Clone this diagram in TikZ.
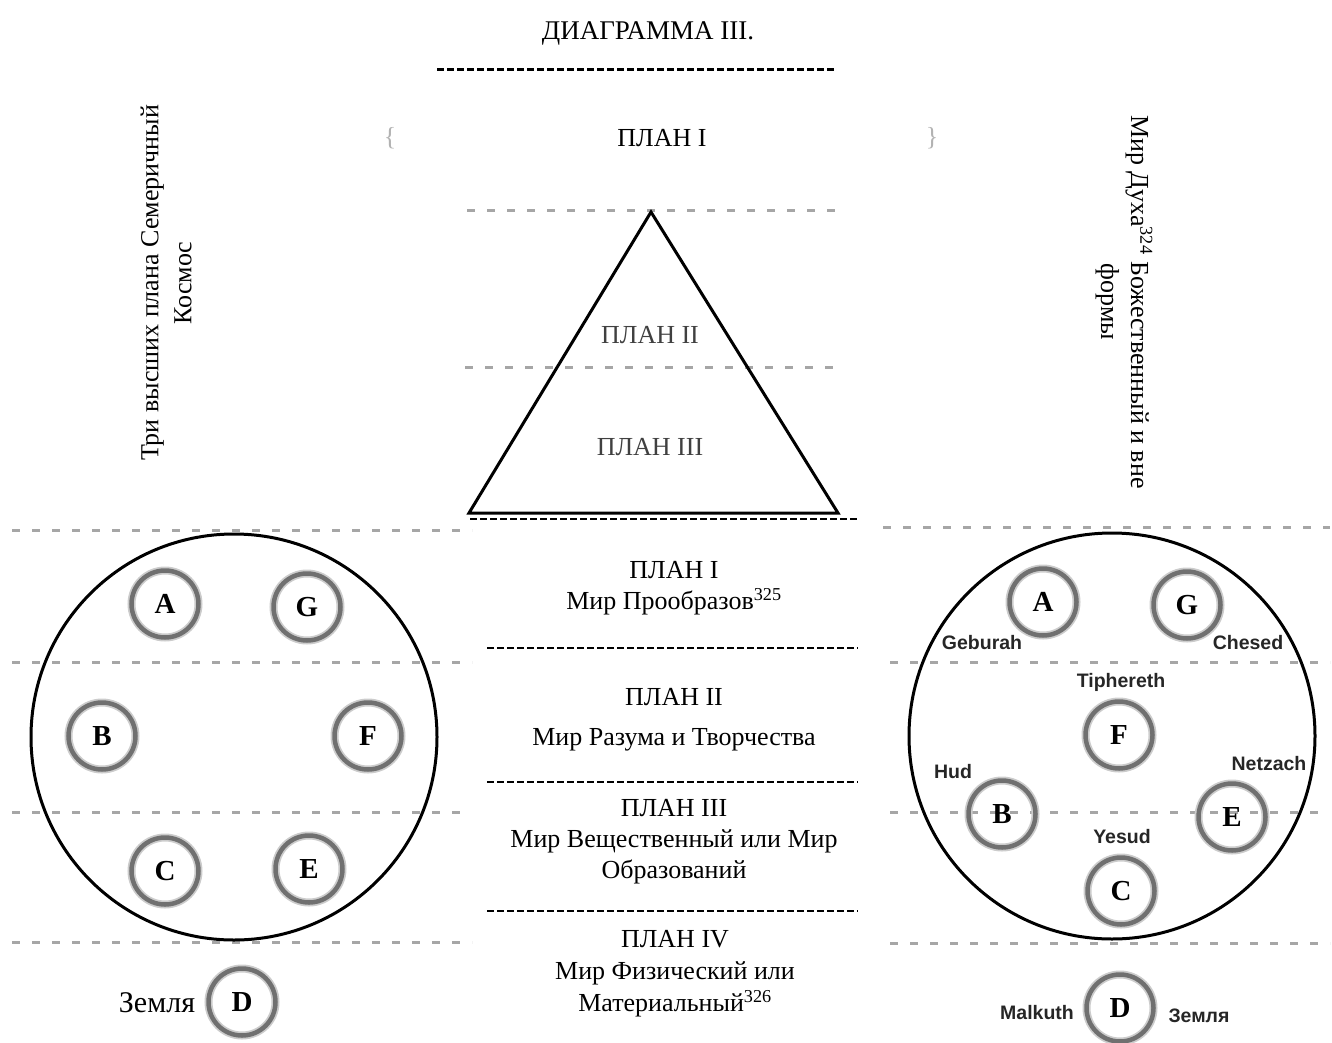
\documentclass[tikz,border=0pt]{standalone}
\usepackage{fontspec}
\setmainfont{Liberation Serif}
\newfontfamily\lsans{Liberation Sans}
\begin{document}
\begin{tikzpicture}[x=1pt,y=-1pt,
  txt/.style={font=\fontsize{26}{31}\selectfont, inner sep=0pt, align=center},
  gdash/.style={draw=black!35, line width=3pt, dash pattern=on 8pt off 12pt},
  bdash/.style={draw=black, line width=2.6pt, dash pattern=on 7pt off 3pt},
  ring/.style={circle, minimum size=67pt, inner sep=0pt, draw=black!56, line width=4.5pt,
    preaction={draw=black!20, line width=8pt}, font=\fontsize{29}{29}\selectfont\bfseries},
  bigc/.style={circle, draw, line width=3pt, minimum size=406pt, inner sep=0pt},
  lab/.style={font=\lsans\bfseries\fontsize{19.5}{19.5}\selectfont, inner sep=0pt, text=black!85}
]
\useasboundingbox (0,0) rectangle (1332,1043);

% title
\node[txt, font=\fontsize{27}{31}\selectfont] (title) at (648,33) {ДИАГРАММА III.};
\draw[bdash, line width=3pt] (437,70) -- (835,70);
\node[txt, text=black!30] (lbr) at (390,138) {\{};
\node[txt] (plan1top) at (662,138) {ПЛАН I};
\node[txt, text=black!30] (rbr) at (932,138) {\}};

% side vertical texts
\node[txt, font=\fontsize{26}{33}\selectfont, rotate=90] (lefttxt) at (166,283) {Три высших плана Семеричный\\Космос};
\node[txt, font=\fontsize{26}{30}\selectfont, rotate=-90] (righttxt) at (1124,302) {Мир Духа\textsuperscript{324} Божественный и вне\\формы};

% triangle zone
\draw[gdash] (467,210) -- (835,210);
\draw[gdash] (465,367) -- (838,367);
\coordinate (tA) at (651,212);
\coordinate (tL) at (469,513);
\coordinate (tR) at (838,513);
\draw[line width=3pt, line join=miter] (tA) -- (tL) -- (tR) -- cycle;
\node[txt, text=black!75] (tp2) at (650,335) {ПЛАН II};
\node[txt, text=black!75] (tp3) at (650,447) {ПЛАН III};

% central dashed separators
\draw[bdash] (470,519) -- (858,519);
\draw[bdash] (487,648) -- (858,648);
\draw[bdash] (487,782) -- (858,782);
\draw[bdash] (487,911) -- (858,911);

% central texts
\node[txt] (c1) at (674,588) {ПЛАН I\\Мир Прообразов\textsuperscript{325}};
\node[txt] (c2) at (674,720) {ПЛАН II\\[9pt]Мир Разума и Творчества};
\node[txt] (c3) at (674,842) {ПЛАН III\\Мир Вещественный или Мир\\Образований};
\node[txt, font=\fontsize{26}{32}\selectfont] (c4) at (675,974) {ПЛАН IV\\Мир Физический или\\Материальный\textsuperscript{326}};

% left panel
\draw[gdash] (12,530) -- (472,530);
\draw[gdash] (12,662) -- (472,662);
\draw[gdash] (12,812) -- (465,812);
\draw[gdash] (12,942) -- (472,942);
\node[bigc] (Lbig) at (234,737) {};
\node[ring] (LA) at (165,604) {A};
\node[ring] (LG) at (307,607) {G};
\node[ring] (LB) at (102,736) {B};
\node[ring] (LF) at (368,736) {F};
\node[ring] (LC) at (165,871) {C};
\node[ring] (LE) at (309,869) {E};
\node[ring] (LD) at (242,1002) {D};
\node[txt, font=\fontsize{30}{30}\selectfont] (Lz) at (157,1003) {Земля};

% right panel
\draw[gdash] (883,527) -- (1330,527);
\draw[gdash] (890,662) -- (1330,662);
\draw[gdash] (890,812) -- (1325,812);
\draw[gdash] (890,943) -- (1330,943);
\node[bigc] (Rbig) at (1112,736) {};
\node[ring] (RA) at (1043,602) {A};
\node[ring] (RG) at (1187,605) {G};
\node[ring] (RF) at (1119,735) {F};
\node[ring] (RB) at (1002,814) {B};
\node[ring] (RE) at (1232,817) {E};
\node[ring] (RC) at (1121,891) {C};
\node[ring] (RD) at (1120,1008) {D};
\node[lab] (geb) at (982,643) {Geburah};
\node[lab] (che) at (1248,643) {Chesed};
\node[lab] (tip) at (1121,682) {Tiphereth};
\node[lab] (hud) at (953,772) {Hud};
\node[lab] (net) at (1269,764) {Netzach};
\node[lab] (yes) at (1122,837) {Yesud};
\node[lab] (mal) at (1037,1013) {Malkuth};
\node[lab] (zem) at (1199,1016) {Земля};
\end{tikzpicture}
\end{document}
